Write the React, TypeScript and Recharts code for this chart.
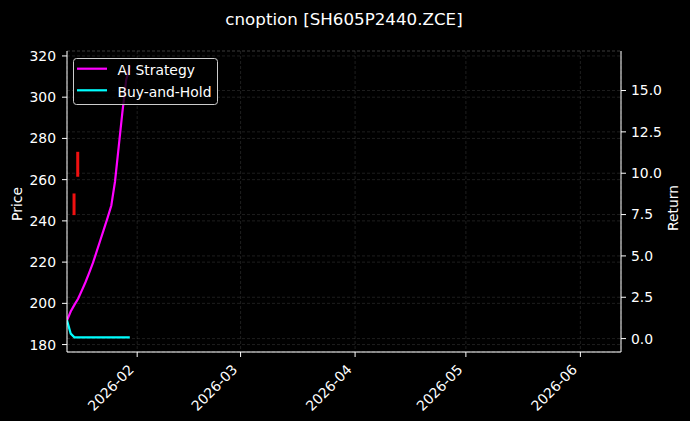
import { ComposedChart, Line, Bar, XAxis, YAxis, CartesianGrid, Legend } from "recharts";

const FONT = "'DejaVu Sans', sans-serif";

// daily points of the two equity curves
const dates = [
  "2026-01-13", "2026-01-14", "2026-01-15", "2026-01-16", "2026-01-17", "2026-01-18",
  "2026-01-19", "2026-01-20", "2026-01-21", "2026-01-22", "2026-01-23", "2026-01-24",
  "2026-01-25", "2026-01-26", "2026-01-27", "2026-01-28", "2026-01-29", "2026-01-30",
];
const aiReturn = [1.11, 1.64, 2.04, 2.41, 2.9, 3.41, 3.98, 4.56, 5.24, 5.93, 6.62, 7.31, 8.05, 9.5, 11.6, 13.7, 15.6, 16.5];
const bhReturn = [1.11, 0.3, 0.08, 0.08, 0.08, 0.08, 0.08, 0.08, 0.08, 0.08, 0.08, 0.08, 0.08, 0.08, 0.08, 0.08, 0.08, 0.08];

// the two (red) candles visible on the price axis
const candleDates = ["2026-01-15", "2026-01-16"];
const candleLow = [242.8, 261.4];
const candleHigh = [253.3, 273.5];

const xStart = "2026-01-13";
const xEnd = "2026-06-12";
const xTicks = ["2026-02-01", "2026-03-01", "2026-04-01", "2026-05-01", "2026-06-01"];
const priceTicks = [180, 200, 220, 240, 260, 280, 300, 320];
const returnTicks = [0, 2.5, 5, 7.5, 10, 12.5, 15];

const dayOf = (s: string) => {
  const [y, m, d] = s.split("-").map(Number);
  return (Date.UTC(y, m - 1, d) - Date.UTC(2026, 0, 1)) / 86400000;
};
const monthLabel = (t: number) => {
  const d = new Date(Date.UTC(2026, 0, 1) + Math.round(t) * 86400000);
  return `${d.getUTCFullYear()}-${String(d.getUTCMonth() + 1).padStart(2, "0")}`;
};

const rows = dates.map((s, i) => {
  const c = candleDates.indexOf(s);
  return {
    t: dayOf(s),
    ai: aiReturn[i],
    bh: bhReturn[i],
    candle: c >= 0 ? [candleLow[c], candleHigh[c]] : undefined,
  };
});

function DateTick({ x, y, payload }: any) {
  const ax = x - 2.3;
  const ay = y + 13.6;
  return (
    <text x={ax} y={ay} transform={`rotate(-45 ${ax} ${ay})`} textAnchor="end" fill="#fff" fontSize={13.9} fontFamily={FONT}>
      {monthLabel(payload.value)}
    </text>
  );
}

function AxisTitle({ text, cx, cy }: any) {
  return (
    <text x={cx} y={cy} transform={`rotate(-90 ${cx} ${cy})`} textAnchor="middle" dominantBaseline="central" fill="#fff" fontSize={13.9} fontFamily={FONT}>
      {text}
    </text>
  );
}

function LegendBox() {
  return (
    <svg width={146} height={48} style={{ display: "block" }}>
      <rect x={0.5} y={0.5} width={144} height={46} rx={3} fill="rgba(0,0,0,0.8)" stroke="#cccccc" strokeWidth={1} />
      <line x1={4} x2={34} y1={10.7} y2={10.7} stroke="#ff00ff" strokeWidth={2.2} />
      <text x={44.4} y={17.4} fill="#fff" fontSize={13.9} fontFamily={FONT}>AI Strategy</text>
      <line x1={4} x2={34} y1={32.3} y2={32.3} stroke="#00ffff" strokeWidth={2.2} />
      <text x={44.4} y={38.5} fill="#fff" fontSize={13.9} fontFamily={FONT}>Buy-and-Hold</text>
    </svg>
  );
}

const axisStyle = { fill: "#fff", fontSize: 13.9, fontFamily: FONT };

export default function App() {
  return (
    <div style={{ position: "absolute", left: 0, top: 0, width: 690, height: 421, background: "#000" }}>
      <svg width={690} height={40} style={{ position: "absolute", left: 0, top: 0 }}>
        <text x={344} y={25} textAnchor="middle" fill="#fff" fontSize={16.7} fontFamily={FONT}>
          cnoption [SH605P2440.ZCE]
        </text>
      </svg>
      <ComposedChart width={690} height={421} data={rows} margin={{ top: 51, right: 0, bottom: 0, left: 0 }}>
        <CartesianGrid yAxisId="left" stroke="#fff" strokeOpacity={0.2} strokeDasharray="3 2" strokeWidth={0.6} />
        <CartesianGrid yAxisId="right" vertical={false} stroke="#fff" strokeOpacity={0.2} strokeDasharray="3 2" strokeWidth={0.6} />
        <XAxis
          dataKey="t"
          type="number"
          domain={[dayOf(xStart), dayOf(xEnd)]}
          allowDataOverflow
          ticks={xTicks.map(dayOf)}
          height={69}
          tickSize={5}
          tickMargin={0}
          axisLine={{ stroke: "#fff" }}
          tickLine={{ stroke: "#fff" }}
          tick={<DateTick />}
          interval={0}
        />
        <XAxis
          xAxisId="top"
          orientation="top"
          dataKey="t"
          type="number"
          domain={[dayOf(xStart), dayOf(xEnd)]}
          allowDataOverflow
          height={0}
          tick={false}
          tickLine={false}
          axisLine={{ stroke: "#fff" }}
        />
        <YAxis
          yAxisId="left"
          orientation="left"
          width={67}
          domain={[176.4, 322.4]}
          allowDataOverflow
          ticks={priceTicks}
          interval={0}
          tickSize={5}
          tickMargin={6}
          axisLine={{ stroke: "#fff" }}
          tickLine={{ stroke: "#fff" }}
          tick={axisStyle}
          label={{ content: <AxisTitle text="Price" cx={16.5} cy={204} /> }}
        />
        <YAxis
          yAxisId="right"
          orientation="right"
          width={69}
          domain={[-0.81, 17.39]}
          allowDataOverflow
          ticks={returnTicks}
          interval={0}
          tickFormatter={(v: number) => v.toFixed(1)}
          tickSize={5}
          tickMargin={5}
          axisLine={{ stroke: "#fff" }}
          tickLine={{ stroke: "#fff" }}
          tick={axisStyle}
          label={{ content: <AxisTitle text="Return" cx={672.5} cy={208} /> }}
        />
        <Bar yAxisId="left" dataKey="candle" fill="#f01010" barSize={3} isAnimationActive={false} legendType="none" />
        <Line yAxisId="right" dataKey="ai" name="AI Strategy" stroke="#ff00ff" strokeWidth={2.2} dot={false} isAnimationActive={false} />
        <Line yAxisId="right" dataKey="bh" name="Buy-and-Hold" stroke="#00ffff" strokeWidth={2.2} dot={false} isAnimationActive={false} />
        <Legend
          layout="horizontal"
          verticalAlign="middle"
          align="center"
          wrapperStyle={{ position: "absolute", left: 73, top: 58, width: 146, height: 48 }}
          content={() => <LegendBox />}
        />
      </ComposedChart>
    </div>
  );
}
